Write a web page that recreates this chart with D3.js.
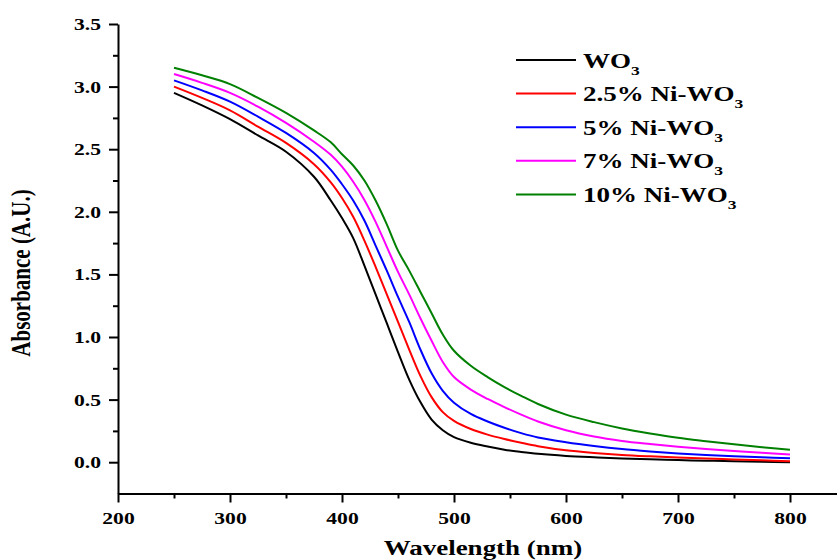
<!DOCTYPE html>
<html>
<head>
<meta charset="utf-8">
<script src="https://cdn.jsdelivr.net/npm/d3@7/dist/d3.min.js"></script>
<style>
  html, body { margin: 0; padding: 0; background: #fff; }
  svg { display: block; }
  text { font-family: "Liberation Serif", "Times New Roman", serif; font-weight: bold; fill: #000; }
</style>
</head>
<body>
<svg id="chart" width="837" height="560"></svg>
<script>
// UV-Vis absorbance spectra of pure and Ni-doped WO3
const wavelengths = [250, 275, 300, 325, 350, 375, 390, 400, 410, 420, 430, 440, 450, 460, 470, 480, 490, 500,
  515, 530, 545, 560, 575, 600, 625, 650, 675, 700, 725, 750, 775, 800];

const wo3 = [2.95, 2.85, 2.74, 2.61, 2.48, 2.28, 2.09, 1.95, 1.79, 1.57, 1.34, 1.11, 0.88, 0.66, 0.48, 0.34, 0.255, 0.20,
  0.155, 0.125, 0.10, 0.082, 0.067, 0.05, 0.039, 0.03, 0.023, 0.017, 0.012, 0.008, 0.004, 0.0];
const ni25 = [3.00, 2.91, 2.81, 2.68, 2.55, 2.38, 2.235, 2.11, 1.96, 1.77, 1.56, 1.34, 1.12, 0.90, 0.69, 0.52, 0.40, 0.33,
  0.265, 0.22, 0.185, 0.155, 0.128, 0.095, 0.074, 0.058, 0.047, 0.038, 0.03, 0.022, 0.015, 0.008];
const ni5 = [3.05, 2.97, 2.88, 2.76, 2.63, 2.47, 2.335, 2.22, 2.09, 1.93, 1.73, 1.53, 1.32, 1.12, 0.90, 0.71, 0.57, 0.475,
  0.385, 0.325, 0.275, 0.232, 0.197, 0.16, 0.13, 0.105, 0.086, 0.07, 0.057, 0.047, 0.039, 0.032];
const ni7 = [3.10, 3.03, 2.95, 2.84, 2.71, 2.56, 2.455, 2.36, 2.24, 2.095, 1.92, 1.72, 1.52, 1.34, 1.15, 0.97, 0.80, 0.68,
  0.58, 0.505, 0.44, 0.38, 0.325, 0.255, 0.205, 0.17, 0.145, 0.123, 0.105, 0.09, 0.075, 0.062];
const ni10 = [3.15, 3.09, 3.02, 2.91, 2.79, 2.65, 2.555, 2.46, 2.37, 2.25, 2.09, 1.90, 1.69, 1.53, 1.36, 1.19, 1.02, 0.89,
  0.77, 0.68, 0.60, 0.53, 0.465, 0.38, 0.32, 0.27, 0.23, 0.195, 0.168, 0.143, 0.12, 0.10];

const seriesNames = ["WO", "2.5% Ni-WO", "5% Ni-WO", "7% Ni-WO", "10% Ni-WO"];
const seriesColors = ["#000000", "#ff0000", "#0000ff", "#ff00ff", "#008000"];
const seriesValues = [wo3, ni25, ni5, ni7, ni10];

const xMajorTicks = [200, 300, 400, 500, 600, 700, 800];
const xMinorTicks = [250, 350, 450, 550, 650, 750, 850];
const yMajorTicks = [0.0, 0.5, 1.0, 1.5, 2.0, 2.5, 3.0, 3.5];
const yMinorTicks = [0.25, 0.75, 1.25, 1.75, 2.25, 2.75, 3.25];

const svg = d3.select("#chart");
const stretch = 1.35; // horizontal stretch of the lettering

const x = d3.scaleLinear().domain([200, 850]).range([118, 846]);
const y = d3.scaleLinear().domain([-0.25, 3.5]).range([493.5, 24]);

// minor ticks
svg.append("g")
  .attr("transform", `translate(0,${y(-0.25)})`)
  .call(d3.axisBottom(x).tickValues(xMinorTicks).tickSize(5).tickFormat(""))
  .call(g => g.select(".domain").remove());
svg.append("g")
  .attr("transform", `translate(${x(200)},0)`)
  .call(d3.axisLeft(y).tickValues(yMinorTicks).tickSize(5).tickFormat(""))
  .call(g => g.select(".domain").remove());

// major axes
const xAxis = svg.append("g")
  .attr("transform", `translate(0,${y(-0.25)})`)
  .call(d3.axisBottom(x).tickValues(xMajorTicks).tickSize(9).tickSizeOuter(0).tickFormat(d3.format("d")));
const yAxis = svg.append("g")
  .attr("transform", `translate(${x(200)},0)`)
  .call(d3.axisLeft(y).tickValues(yMajorTicks).tickSize(9).tickSizeOuter(0).tickFormat(d3.format(".1f")));

svg.selectAll(".tick line, .domain").attr("stroke", "#000").attr("stroke-width", 2);

xAxis.selectAll(".tick text")
  .attr("x", null).attr("y", null).attr("dy", null)
  .attr("transform", `translate(0,30) scale(${stretch},1)`)
  .attr("text-anchor", "middle")
  .style("font-size", "16px");
yAxis.selectAll(".tick text")
  .attr("x", null).attr("y", null).attr("dy", null)
  .attr("transform", `translate(-17,5.5) scale(${stretch},1)`)
  .attr("text-anchor", "end")
  .style("font-size", "16px");

// spectra
const line = d3.line()
  .x(d => x(d[0]))
  .y(d => y(d[1]))
  .curve(d3.curveCatmullRom.alpha(0.5));

seriesValues.forEach((vals, i) => {
  svg.append("path")
    .datum(wavelengths.map((w, j) => [w, vals[j]]))
    .attr("fill", "none")
    .attr("stroke", seriesColors[i])
    .attr("stroke-width", 2)
    .attr("d", line);
});

// axis titles
svg.append("text")
  .attr("transform", `translate(483,555) scale(${stretch},1)`)
  .attr("text-anchor", "middle")
  .style("font-size", "20px")
  .text("Wavelength (nm)");
svg.append("text")
  .attr("transform", `translate(30,273) scale(${stretch},1) rotate(-90)`)
  .attr("text-anchor", "middle")
  .style("font-size", "21px")
  .text("Absorbance (A.U.)");

// legend
const legend = svg.append("g");
seriesNames.forEach((name, i) => {
  const ly = 60 + i * 33.6;
  legend.append("line")
    .attr("x1", 516).attr("x2", 576)
    .attr("y1", ly).attr("y2", ly)
    .attr("stroke", seriesColors[i])
    .attr("stroke-width", 2);
  const t = legend.append("text")
    .attr("transform", `translate(583,${ly + 7.5}) scale(${stretch},1)`)
    .style("font-size", "20px");
  t.append("tspan").text(name);
  t.append("tspan").attr("dy", 7).style("font-size", "13px").text("3");
});
</script>
</body>
</html>
